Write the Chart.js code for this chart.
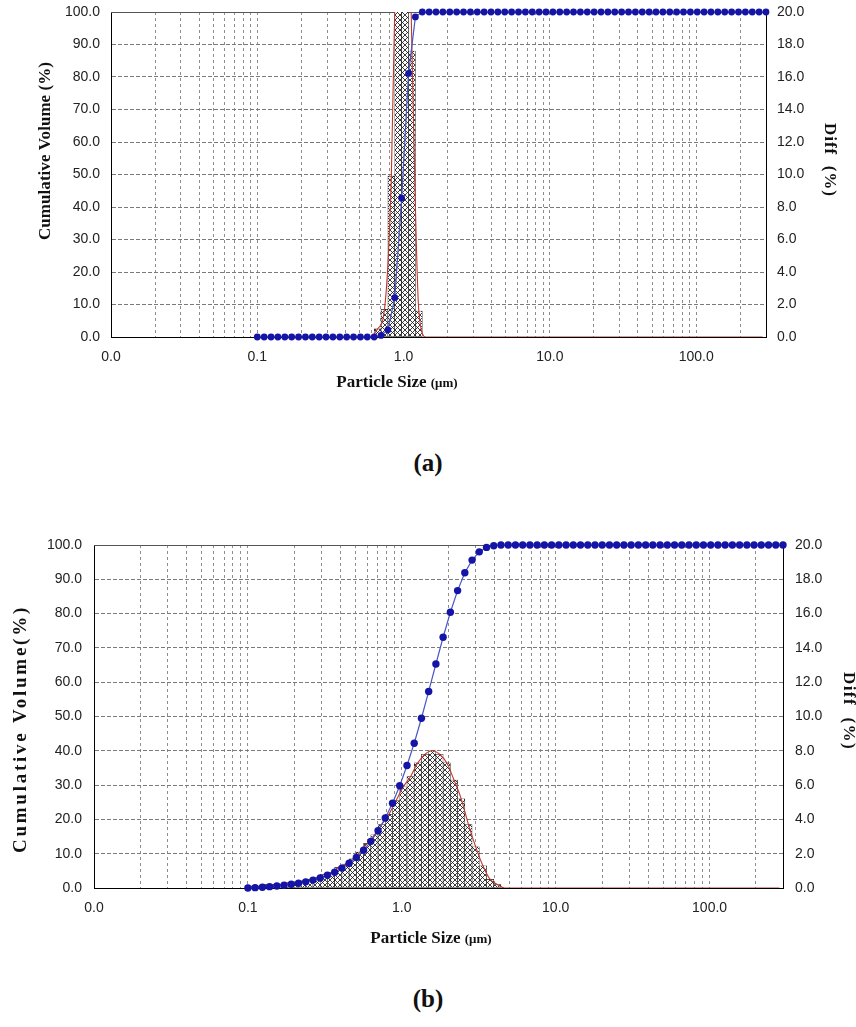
<!DOCTYPE html>
<html>
<head>
<meta charset="utf-8">
<script src="https://cdn.jsdelivr.net/npm/chart.js@4.4.1/dist/chart.umd.min.js"></script>
<style>
  html, body { margin: 0; padding: 0; background: #fff; }
  body { width: 856px; height: 1027px; position: relative; overflow: hidden; }
  .panel { position: absolute; left: 0; width: 856px; }
  .tag { position: absolute; left: 378px; width: 100px; text-align: center;
         font: bold 25px "Liberation Serif", "Times New Roman", serif; color: #111; }
</style>
</head>
<body>
<div class="panel" style="top:0;height:400px"><canvas id="chartA"></canvas></div>
<div class="tag" style="top:449px">(a)</div>
<div class="panel" style="top:530px;height:420px"><canvas id="chartB"></canvas></div>
<div class="tag" style="top:985px">(b)</div>

<script>
// size channels in µm (same channel table for both samples)
const sizes = [
  0.1000, 0.1114, 0.1242, 0.1383, 0.1542, 0.1718, 0.1914, 0.2133, 0.2376, 0.2648,
  0.2950, 0.3287, 0.3663, 0.4082, 0.4548, 0.5068, 0.5647, 0.6292, 0.7011, 0.7812,
  0.8704, 0.9699, 1.081, 1.204, 1.342, 1.495, 1.666, 1.856, 2.069, 2.305,
  2.568, 2.862, 3.189, 3.553, 3.959, 4.411, 4.915, 5.477, 6.103, 6.800,
  7.577, 8.443, 9.408, 10.48, 11.68, 13.02, 14.50, 16.16, 18.01, 20.06,
  22.36, 24.91, 27.76, 30.93, 34.46, 38.40, 42.79, 47.68, 53.12, 59.20,
  65.96, 73.50, 81.89, 91.25, 101.7, 113.3, 126.2, 140.7, 156.7, 174.7,
  194.6, 216.8, 241.6, 269.2, 300.0
];

const decadeValues = [0.01, 0.1, 1, 10, 100];
const decadeLabels = ['0.0', '0.1', '1.0', '10.0', '100.0'];
const xMin = 0.01;
const xMax = 300;

// sample (a): cumulative volume %, one value per channel
const cumulativeA = [
  0, 0, 0, 0, 0, 0, 0, 0, 0, 0,
  0, 0, 0, 0, 0, 0, 0, 0, 0.5, 2.2,
  12.1, 42.7, 81.1, 98.5, 100, 100, 100, 100, 100, 100,
  100, 100, 100, 100, 100, 100, 100, 100, 100, 100,
  100, 100, 100, 100, 100, 100, 100, 100, 100, 100,
  100, 100, 100, 100, 100, 100, 100, 100, 100, 100,
  100, 100, 100, 100, 100, 100, 100, 100, 100, 100,
  100, 100, 100, 100, 100
];
// sample (a): diff %, entry i belongs to the band sizes[i]..sizes[i+1]
const diffA = [
  0, 0, 0, 0, 0, 0, 0, 0, 0, 0,
  0, 0, 0, 0, 0, 0, 0, 0.5, 1.7, 9.9,
  30.6, 38.4, 17.6, 1.6, 0, 0, 0, 0, 0, 0,
  0, 0, 0, 0, 0, 0, 0, 0, 0, 0,
  0, 0, 0, 0, 0, 0, 0, 0, 0, 0,
  0, 0, 0, 0, 0, 0, 0, 0, 0, 0,
  0, 0, 0, 0, 0, 0, 0, 0, 0, 0,
  0, 0, 0, 0
];

// sample (b)
const cumulativeB = [
  0.0, 0.1, 0.2, 0.4, 0.6, 0.8, 1.1, 1.4, 1.8, 2.3,
  2.9, 3.7, 4.6, 5.8, 7.2, 8.9, 11.0, 13.6, 16.7, 20.4,
  24.7, 29.8, 35.7, 42.2, 49.5, 57.3, 65.3, 73.1, 80.4, 86.7,
  91.9, 95.6, 98.0, 99.3, 99.8, 100, 100, 100, 100, 100,
  100, 100, 100, 100, 100, 100, 100, 100, 100, 100,
  100, 100, 100, 100, 100, 100, 100, 100, 100, 100,
  100, 100, 100, 100, 100, 100, 100, 100, 100, 100,
  100, 100, 100, 100, 100
];
const diffB = [
  0.1, 0.1, 0.2, 0.2, 0.2, 0.3, 0.3, 0.4, 0.5, 0.6,
  0.8, 0.9, 1.2, 1.4, 1.7, 2.1, 2.6, 3.1, 3.7, 4.3,
  5.1, 5.9, 6.5, 7.3, 7.8, 8.0, 7.8, 7.3, 6.3, 5.2,
  3.7, 2.4, 1.3, 0.5, 0.2, 0, 0, 0, 0, 0,
  0, 0, 0, 0, 0, 0, 0, 0, 0, 0,
  0, 0, 0, 0, 0, 0, 0, 0, 0, 0,
  0, 0, 0, 0, 0, 0, 0, 0, 0, 0,
  0, 0, 0, 0
];

// vertical grid: 1..9 within every decade
const gridValues = [];
decadeValues.forEach(d => {
  for (let m = 1; m <= 9; m++) {
    const v = Number((m * d).toPrecision(6));
    if (v <= xMax) gridValues.push(v);
  }
});

function decadeLabel(value) {
  const i = decadeValues.findIndex(d => Math.abs(d - value) < d * 1e-6);
  return i >= 0 ? decadeLabels[i] : '';
}

function crossHatch(ctx) {
  const s = 5;
  const tile = document.createElement('canvas');
  tile.width = s;
  tile.height = s;
  const t = tile.getContext('2d');
  t.fillStyle = '#fff';
  t.fillRect(0, 0, s, s);
  t.strokeStyle = '#1a1a1a';
  t.lineWidth = 0.85;
  t.beginPath();
  t.moveTo(-1, -1); t.lineTo(s + 1, s + 1);
  t.moveTo(s + 1, -1); t.lineTo(-1, s + 1);
  t.stroke();
  return ctx.createPattern(tile, 'repeat');
}

const serif = '"Liberation Serif", "Times New Roman", serif';

function drawSpacedText(ctx, o, angle) {
  ctx.save();
  ctx.font = `bold ${o.size}px ${serif}`;
  ctx.fillStyle = '#111';
  ctx.textAlign = 'center';
  ctx.textBaseline = 'middle';
  const w = ctx.measureText(o.text).width;
  if ('letterSpacing' in ctx) {
    ctx.letterSpacing = ((o.len - w) / o.text.length).toFixed(2) + 'px';
  }
  ctx.translate(o.x, o.y);
  ctx.rotate(angle);
  ctx.fillText(o.text, 0, 0);
  ctx.restore();
}

// axis captions and the solid top edge of the plot box
const axisText = {
  id: 'axisText',
  beforeDatasetsDraw(chart) {
    const { ctx, chartArea } = chart;
    const y = Math.round(chartArea.top) + 0.5;
    ctx.save();
    ctx.strokeStyle = '#555';
    ctx.lineWidth = 1;
    ctx.beginPath();
    ctx.moveTo(chartArea.left, y);
    ctx.lineTo(chartArea.right, y);
    ctx.stroke();
    ctx.restore();
  },
  afterDraw(chart, args, opts) {
    const ctx = chart.ctx;
    drawSpacedText(ctx, opts.left, -Math.PI / 2);
    drawSpacedText(ctx, opts.right, Math.PI / 2);

    const b = opts.bottom;
    ctx.save();
    ctx.fillStyle = '#111';
    ctx.textBaseline = 'alphabetic';
    const mainFont = `bold ${b.size}px ${serif}`;
    const unitFont = `bold ${b.unitSize}px ${serif}`;
    ctx.font = mainFont;
    const w1 = ctx.measureText(b.text).width;
    ctx.font = unitFont;
    const w2 = ctx.measureText(b.unit).width;
    const x0 = b.x - (w1 + w2) / 2;
    const base = b.y + b.size * 0.32;
    ctx.font = mainFont;
    ctx.fillText(b.text, x0, base);
    ctx.font = unitFont;
    ctx.fillText(b.unit, x0 + w1, base);
    ctx.restore();
  }
};

Chart.defaults.font.family = '"Liberation Sans", Arial, sans-serif';
Chart.defaults.font.size = 14;
Chart.defaults.color = '#222';

function makeChart(id, cumulative, diff, look) {
  const canvas = document.getElementById(id);
  const hatch = crossHatch(canvas.getContext('2d'));

  const cumPoints = sizes.map((s, k) => ({ x: s, y: cumulative[k] }));
  // each diff band is drawn at the geometric middle of its two channel edges
  const diffPoints = diff.map((d, i) => ({ x: Math.sqrt(sizes[i] * sizes[i + 1]), y: d }));

  // fixed axis widths; the top label overhang is left to layout.padding
  const fitVertical = (width) => (scale) => {
    scale.width = width;
    scale.paddingTop = 0;
  };

  return new Chart(canvas, {
    type: 'line',
    data: {
      datasets: [
        {
          type: 'line',
          label: 'Cumulative Volume',
          data: cumPoints,
          yAxisID: 'y',
          order: 0,
          borderColor: '#4b56c6',
          borderWidth: 1.2,
          pointRadius: look.dot,
          pointBackgroundColor: '#1414a6',
          pointBorderWidth: 0,
          tension: 0,
          clip: false,
        },
        {
          type: 'line',
          label: 'Diff curve',
          data: diffPoints,
          yAxisID: 'y1',
          order: 1,
          borderColor: '#c0392f',
          borderWidth: 1.1,
          pointRadius: 0,
          cubicInterpolationMode: 'monotone',
        },
        {
          type: 'bar',
          label: 'Diff',
          data: diffPoints,
          yAxisID: 'y1',
          order: 2,
          backgroundColor: hatch,
          borderColor: '#111',
          borderWidth: 0.6,
          borderSkipped: false,
          barThickness: 'flex',
          categoryPercentage: 1,
          barPercentage: 1,
          clip: 0,
        },
      ],
    },
    options: {
      responsive: true,
      maintainAspectRatio: false,
      animation: false,
      events: [],
      layout: { padding: { top: look.padTop, left: 0, right: 0, bottom: 0 } },
      plugins: {
        legend: { display: false },
        tooltip: { enabled: false },
        axisText: {
          left: look.leftTitle,
          right: look.rightTitle,
          bottom: look.xTitle,
        },
      },
      scales: {
        x: {
          type: 'logarithmic',
          min: xMin,
          max: xMax,
          offset: false,
          afterBuildTicks: (scale) => {
            scale.ticks = gridValues.map(v => ({ value: v }));
          },
          afterFit: (scale) => { scale.height = look.bottom; },
          ticks: { autoSkip: false, maxRotation: 0, padding: look.tickPadX, callback: decadeLabel },
          grid: { color: '#8e8e8e', drawTicks: false, offset: false },
          border: { color: '#000', width: 1, dash: [3, 3] },
        },
        y: {
          position: 'left',
          min: 0,
          max: 100,
          afterFit: fitVertical(look.left),
          ticks: { stepSize: 10, padding: look.tickPadY, callback: v => v.toFixed(1) },
          grid: { color: '#7a7a7a', drawTicks: false },
          border: { color: '#000', width: 1, dash: [4, 2] },
        },
        y1: {
          position: 'right',
          min: 0,
          max: 20,
          afterFit: fitVertical(look.right),
          ticks: { stepSize: 2, padding: look.tickPadY, callback: v => v.toFixed(1) },
          grid: { drawOnChartArea: false, drawTicks: false },
          border: { color: '#000', width: 1 },
        },
      },
    },
    plugins: [axisText],
  });
}

makeChart('chartA', cumulativeA, diffA, {
  padTop: 12, left: 111, right: 90, bottom: 63, tickPadX: 12, tickPadY: 11, dot: 3.4,
  leftTitle: { text: 'Cumulative Volume (%)', x: 46, y: 151, len: 178, size: 17 },
  rightTitle: { text: 'Diff  (%)', x: 829, y: 160, len: 74, size: 17 },
  xTitle: { text: 'Particle Size ', unit: '(μm)', x: 397, y: 382, size: 17, unitSize: 13 },
});

makeChart('chartB', cumulativeB, diffB, {
  padTop: 15, left: 94, right: 73, bottom: 62, tickPadX: 12, tickPadY: 12, dot: 3.7,
  leftTitle: { text: 'Cumulative Volume(%)', x: 21, y: 199, len: 248, size: 19 },
  rightTitle: { text: 'Diff  (%)', x: 848, y: 181, len: 78, size: 17 },
  xTitle: { text: 'Particle Size ', unit: '(μm)', x: 431, y: 408, size: 17, unitSize: 13 },
});
</script>
</body>
</html>
